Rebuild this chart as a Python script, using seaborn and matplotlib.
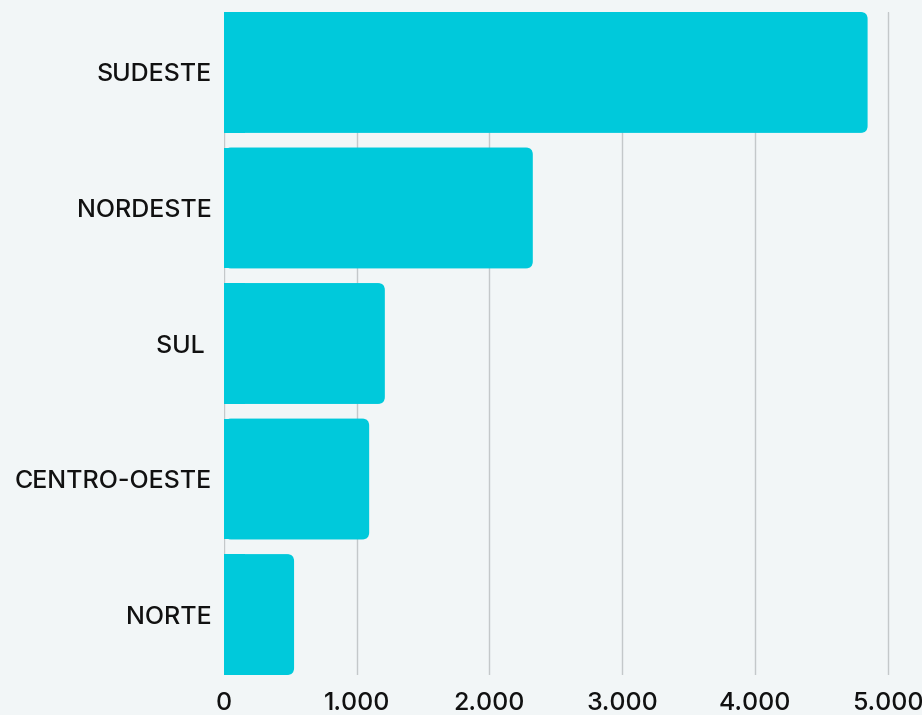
import matplotlib
matplotlib.use("Agg")
import matplotlib.pyplot as plt
import seaborn as sns
import pandas as pd
from matplotlib.patches import FancyBboxPatch, Rectangle

regions = ["SUDESTE", "NORDESTE", "SUL ", "CENTRO-OESTE", "NORTE"]
values = [4850, 2327, 1212, 1094, 528]
xticks = [0, 1000, 2000, 3000, 4000, 5000]
xticklabels = ["0", "1.000", "2.000", "3.000", "4.000", "5.000"]

BG = "#f2f6f7"
BAR = "#00c9db"

sns.set_theme(style="white")
plt.rcParams["font.family"] = ["Inter", "DejaVu Sans"]

df = pd.DataFrame({"region": regions, "value": values})

fig = plt.figure(figsize=(9.22, 7.15), dpi=100, facecolor=BG)
ax = fig.add_axes([224 / 922, 40 / 715, 676 / 922, 663 / 715])
ax.set_facecolor(BG)

sns.barplot(data=df, x="value", y="region", color=BAR, width=0.892,
            saturation=1, ax=ax, zorder=3)

xmax = 5000 * 676 / 663.5
ax.set_xlim(0, xmax)
ax.set_ylim(4.446, -0.446)

# rounded right corners
px_x = xmax / 676.0
px_y = 4.892 / 663.0
r_px = 7
for p in list(ax.patches):
    x0, y0 = p.get_x(), p.get_y()
    w, h = p.get_width(), p.get_height()
    p.set_visible(False)
    fb = FancyBboxPatch((x0, y0), w, h,
                        boxstyle=f"round,pad=0,rounding_size={r_px * px_x}",
                        mutation_aspect=px_y / px_x,
                        facecolor=BAR, edgecolor="none", zorder=3)
    ax.add_patch(fb)
    sq = Rectangle((x0, y0), min(w, 3 * r_px * px_x), h,
                   facecolor=BAR, edgecolor="none", zorder=3)
    ax.add_patch(sq)

ax.set_xticks(xticks)
ax.set_xticklabels(xticklabels)
ax.grid(axis="x", color="#c4c8ca", linewidth=1, zorder=0)
ax.grid(axis="y", visible=False)
for s in ax.spines.values():
    s.set_visible(False)
ax.tick_params(axis="both", length=0, labelsize=18, colors="#111111")
ax.tick_params(axis="y", pad=9)
ax.tick_params(axis="x", pad=12)
for lbl in ax.get_xticklabels() + ax.get_yticklabels():
    lbl.set_fontweight("medium")
ax.set_xlabel("")
ax.set_ylabel("")

fig.savefig("out.png", dpi=100, facecolor=BG)
